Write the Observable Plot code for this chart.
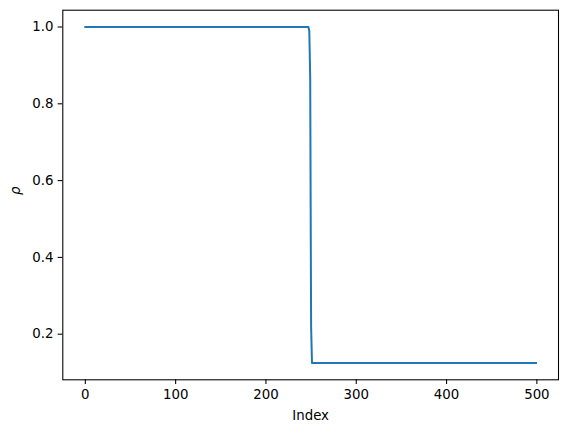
<!DOCTYPE html>
<html>
<head>
<meta charset="utf-8">
<script src="https://cdn.jsdelivr.net/npm/d3@7"></script>
<script src="https://cdn.jsdelivr.net/npm/@observablehq/plot@0.6"></script>
<style>
  html, body { margin: 0; padding: 0; background: white; }
</style>
</head>
<body>
<div id="chart"></div>
<script>
// Breakpoints of the density profile (flat before 247 and after 251)
const index = [0, 247, 248, 249, 250, 251, 499];
const rho   = [1.0, 1.0, 0.99, 0.87, 0.22, 0.125, 0.125];
const xTicks = [0, 100, 200, 300, 400, 500];
const yTicks = [0.2, 0.4, 0.6, 0.8, 1.0];
const xLabel = "Index";
const yLabel = "ρ";

const data = index.map((d, i) => ({index: d, rho: rho[i]}));

const xMin = d3.min(index), xMax = d3.max(index);
const yMin = d3.min(rho), yMax = d3.max(rho);
const xPad = (xMax - xMin) * 0.05, yPad = (yMax - yMin) * 0.05;

const chart = Plot.plot({
  width: 568,
  height: 432,
  marginLeft: 62.3,
  marginRight: 10,
  marginTop: 9.7,
  marginBottom: 52.7,
  style: {fontFamily: "DejaVu Sans", fontSize: "13.33px", color: "black", background: "white"},
  x: {domain: [xMin - xPad, xMax + xPad]},
  y: {domain: [yMin - yPad, yMax + yPad]},
  marks: [
    Plot.line(data, {x: "index", y: "rho", stroke: "#1f77b4", strokeWidth: 2, strokeLinejoin: "round", strokeLinecap: "square"}),
    Plot.axisX({ticks: xTicks, tickSize: 4.67, tickPadding: 4.67, strokeWidth: 1.07, label: null, tickFormat: d3.format("d")}),
    Plot.axisY({ticks: yTicks, tickSize: 4.67, tickPadding: 4.67, strokeWidth: 1.07, label: null, tickFormat: d3.format(".1f")}),
    Plot.frame({stroke: "black", strokeWidth: 1.07}),
    Plot.text([xLabel], {text: d => d, frameAnchor: "bottom", lineAnchor: "bottom", dy: 40, fill: "black", fontSize: 13.33}),
    Plot.text([yLabel], {text: d => d, frameAnchor: "left", rotate: -90, dx: -47, fill: "black", fontSize: 13.33, fontStyle: "italic"})
  ]
});
document.getElementById("chart").appendChild(chart);
</script>
</body>
</html>
